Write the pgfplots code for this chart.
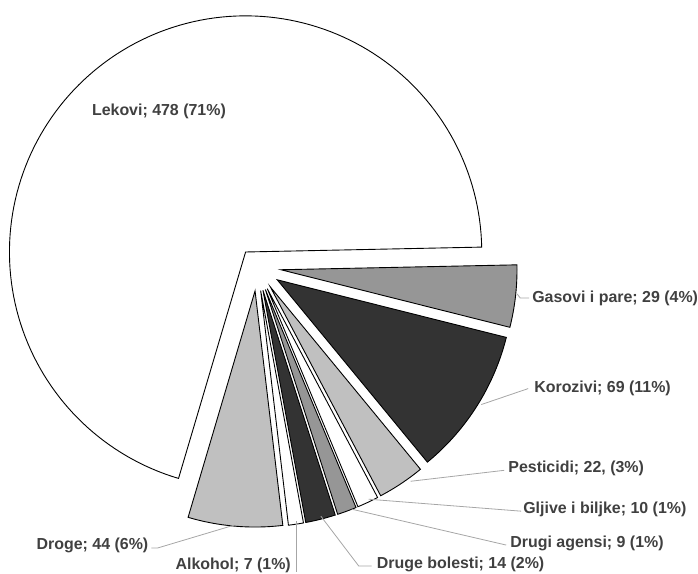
\documentclass[border=0pt]{standalone}
\usepackage{pgfplots}
\pgfplotsset{compat=1.18}
\usepackage{fontspec}
\setmainfont{Liberation Sans}
\definecolor{cgray}{HTML}{969696}
\definecolor{cdark}{HTML}{333333}
\definecolor{clight}{HTML}{C0C0C0}
\definecolor{ctxt}{HTML}{404040}
\definecolor{clead}{HTML}{A6A6A6}
% data (values)
\def\tot{682}
\def\vLekovi{478}
\def\vGasovi{29}
\def\vKorozivi{69}
\def\vPesticidi{22}
\def\vGljive{10}
\def\vAgensi{9}
\def\vBolesti{14}
\def\vAlkohol{7}
\def\vDroge{44}
% geometry (pixel units, y up)
\def\cx{258}
\def\cy{308}
\def\rad{237}
\def\start{1.19}
\pgfmathsetmacro\aA{\start}
\pgfmathsetmacro\aB{\aA-\vGasovi/\tot*360}
\pgfmathsetmacro\aC{\aB-\vKorozivi/\tot*360}
\pgfmathsetmacro\aD{\aC-\vPesticidi/\tot*360}
\pgfmathsetmacro\aE{\aD-\vGljive/\tot*360}
\pgfmathsetmacro\aF{\aE-\vAgensi/\tot*360}
\pgfmathsetmacro\aG{\aF-\vBolesti/\tot*360}
\pgfmathsetmacro\aH{\aG-\vAlkohol/\tot*360}
\pgfmathsetmacro\aI{\aH-\vDroge/\tot*360}
\pgfmathsetmacro\aJ{\aA+\vLekovi/\tot*360}
\newcommand\slice[4]{%
  \pgfmathsetmacro\smid{(#1+#2)/2}%
  \pgfmathsetmacro\sx{\cx+#3*cos(\smid)}%
  \pgfmathsetmacro\sy{\cy+#3*sin(\smid)}%
  \edef\temp{\noexpand\addplot[draw=black, line width=0.9pt, fill=#4, domain=#1:#2, samples=150, variable=\noexpand\t]
    ({\sx+\rad*cos(\noexpand\t)},{\sy+\rad*sin(\noexpand\t)}) -- (axis cs:\sx,\sy) -- cycle;}%
  \temp
}
\tikzset{lbl/.style={font=\fontsize{16}{19}\selectfont\bfseries, text=ctxt, inner sep=0pt}}
\begin{document}
\begin{tikzpicture}
\begin{axis}[
  scale only axis, width=698pt, height=576pt,
  xmin=0, xmax=698, ymin=0, ymax=576,
  axis lines=none, clip=false,
  leader/.style={draw=clead, line width=0.8pt, mark=none},
]
\addplot[draw=none, mark=none] coordinates {(0,0) (698,576)};
\slice{\aA}{\aJ}{19}{white}
\slice{\aB}{\aA}{24}{cgray}
\slice{\aC}{\aB}{24}{cdark}
\slice{\aD}{\aC}{24}{clight}
\slice{\aE}{\aD}{24}{white}
\slice{\aF}{\aE}{24}{cgray}
\slice{\aG}{\aF}{24}{cdark}
\slice{\aH}{\aG}{24}{white}
\slice{\aI}{\aH}{24}{clight}
% leader lines
\addplot[leader] coordinates {(531,277) (522,277) (519,281)};
\addplot[leader] coordinates {(530,186) (483,170)};
\addplot[leader] coordinates {(506,104) (412,93)};
\addplot[leader] coordinates {(523,63) (370,75)};
\addplot[leader] coordinates {(508,29) (353,65)};
\addplot[leader] coordinates {(373,8) (360,8) (322,58)};
\addplot[leader] coordinates {(297,2) (297,53)};
\addplot[leader] coordinates {(152,26) (158,26) (235,49)};
% labels
\node[lbl, anchor=center] at (axis cs:159.5,464) {Lekovi; 478 (71\%)};
\node[lbl, anchor=west] at (axis cs:534,277) {Gasovi i pare; 29 (4\%)};
\node[lbl, anchor=west] at (axis cs:536,186) {Korozivi; 69 (11\%)};
\node[lbl, anchor=west] at (axis cs:510,106) {Pesticidi; 22, (3\%)};
\node[lbl, anchor=west] at (axis cs:525,65) {Gljive i biljke; 10 (1\%)};
\node[lbl, anchor=west] at (axis cs:512,31) {Drugi agensi; 9 (1\%)};
\node[lbl, anchor=west] at (axis cs:378,10) {Druge bolesti; 14 (2\%)};
\node[lbl, anchor=east] at (axis cs:292,9) {Alkohol; 7 (1\%)};
\node[lbl, anchor=east] at (axis cs:149,29) {Droge; 44 (6\%)};
\end{axis}
\path[use as bounding box] (current axis.south west) rectangle (current axis.north east);
\end{tikzpicture}
\end{document}
